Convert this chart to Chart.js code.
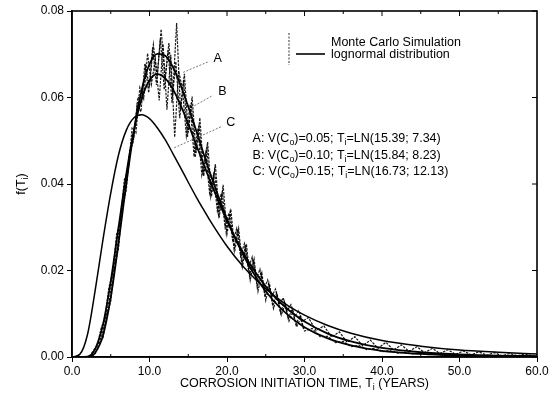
<!DOCTYPE html>
<html>
<head>
<meta charset="utf-8">
<script src="https://cdn.jsdelivr.net/npm/chart.js@4.4.1/dist/chart.umd.min.js"></script>
<style>
html,body{margin:0;padding:0;background:#fff;}
canvas{display:block;}
</style>
</head>
<body>
<canvas id="c" width="555" height="396"></canvas>
<script>
// ---- data ----
const curveT = [0,1,2,3,4,5,6,7,8,9,10,11,12,13,14,15,16,17,18,20,22,24,26,28,30,33,36,40,45,50,55,60];
const curveA = [0,0,0.0000,0.0010,0.0050,0.0138,0.0263,0.0400,0.0524,0.0618,0.0677,0.0701,0.0697,0.0671,0.0629,0.0579,0.0525,0.0469,0.0416,0.0319,0.0239,0.0177,0.0130,0.0095,0.0069,0.0043,0.0027,0.0014,0.0007,0.0003,0.0002,0.0001];
const curveB = [0,0,0.0001,0.0019,0.0075,0.0175,0.0299,0.0422,0.0525,0.0598,0.0640,0.0654,0.0645,0.0620,0.0583,0.0539,0.0492,0.0445,0.0399,0.0315,0.0244,0.0187,0.0142,0.0108,0.0082,0.0054,0.0036,0.0021,0.0011,0.0006,0.0003,0.0002];
const curveC = [0,0.0006,0.0052,0.0155,0.0272,0.0379,0.0467,0.0524,0.0553,0.0560,0.0551,0.0530,0.0503,0.0471,0.0438,0.0404,0.0371,0.0340,0.0310,0.0256,0.0211,0.0174,0.0143,0.0117,0.0097,0.0073,0.0055,0.0038,0.0025,0.0016,0.0011,0.0007];

// Monte Carlo simulation samples (three interleaved runs)
const mcTA = [2,2.5,3,3.5,4,4.5,5,5.5,6,6.5,7,7.5,8,8.5,9,9.5,10,10.5,11,11.5,12,12.5,13,13.5,14,14.5,15,15.5,16,16.5,17,17.5,18,18.5,19,19.5,20,20.5,21,21.5,22,22.5,23,23.5,24,24.5,25,25.5,26,26.5,27,27.5,28,28.5,29,29.5,30,
  31,32,33,34,35,36,37,38,39,40,41,42,43,44,45,46,47,48,49,50,51,52,53,54,55,56,57,58,59,60];
const mcA = [0.0000,0.0004,0.0008,0.0031,0.0044,0.0097,0.0129,0.0211,0.0251,0.0347,
  0.0386,0.0482,0.0508,0.0601,0.0594,0.0671,0.0625,0.0722,0.0648,0.0758,
  0.0641,0.0726,0.0606,0.0772,0.0571,0.0655,0.0519,0.0602,0.0472,0.0553,
  0.0418,0.0497,0.0371,0.0446,0.0322,0.0398,0.0285,0.0341,0.0246,0.0297,
  0.0209,0.0262,0.0178,0.0226,0.0152,0.0194,0.0131,0.0168,0.0112,0.0142,
  0.0097,0.0121,0.0083,0.0104,0.0070,0.0090,0.0060,
  0.0066,0.0047,0.0048,0.0033,0.0036,0.0024,0.0027,0.0017,0.0020,0.0012,0.0015,0.0009,0.0011,0.0007,0.0009,0.0005,0.0007,0.0003,0.0005,0.0002,0.0004,0.0002,0.0003,0.0001,0.0003,0.0001,0.0002,0.0001,0.0002,0.0001];
const mcTB = [2.25,2.75,3.25,3.75,4.25,4.75,5.25,5.75,6.25,6.75,7.25,7.75,8.25,8.75,9.25,9.75,10.25,10.75,11.25,11.75,12.25,12.75,13.25,13.75,14.25,14.75,15.25,15.75,16.25,16.75,17.25,17.75,18.25,18.75,19.25,19.75,20.25,20.75,21.25,21.75,22.25,22.75,23.25,23.75,24.25,24.75,25.25,25.75,26.25,26.75,27.25,27.75,28.25,28.75,29.25,29.75,
  30.5,31.5,32.5,33.5,34.5,35.5,36.5,37.5,38.5,39.5,40.5,41.5,42.5,43.5,44.5,45.5,46.5,47.5,48.5,49.5,50.5,51.5,52.5,53.5,54.5,55.5,56.5,57.5,58.5,59.5];
const mcB = [0.0001,0.0015,0.0026,0.0066,0.0089,0.0160,0.0194,0.0283,0.0315,0.0410,
  0.0431,0.0529,0.0518,0.0623,0.0597,0.0702,0.0631,0.0689,0.0593,0.0724,
  0.0572,0.0699,0.0508,0.0661,0.0621,0.0512,0.0584,0.0463,0.0529,0.0421,
  0.0472,0.0379,0.0421,0.0338,0.0378,0.0301,0.0333,0.0266,0.0297,0.0234,
  0.0262,0.0204,0.0231,0.0178,0.0203,0.0157,0.0178,0.0138,0.0157,0.0121,
  0.0137,0.0107,0.0121,0.0094,0.0107,0.0083,
  0.0091,0.0061,0.0072,0.0046,0.0058,0.0034,0.0047,0.0026,0.0039,0.0020,0.0034,0.0016,0.0028,0.0013,0.0024,0.0010,0.0020,0.0008,0.0017,0.0006,0.0014,0.0005,0.0012,0.0004,0.0010,0.0003,0.0008,0.0003,0.0007,0.0002];
const mcTC = [3.4,3.9,4.4,4.9,5.4,5.9,6.4,6.9,7.4,7.9,8.4,8.9,9.4,9.9,10.4,10.9,11.4,11.9,12.4,12.9,13.4,13.9,14.4,14.9,15.4,15.9,16.4,16.9,17.4,17.9,18.4,18.9,19.4,19.9,20.4,20.9,21.4,21.9,22.4,22.9,23.4,23.9,24.4,24.9,25.4,25.9,26.4,26.9,27.4,27.9,28.4,28.9,29.4,29.9];
const mcC = [0.0031,0.0052,0.0098,0.0139,0.0213,0.0259,0.0346,0.0388,0.0471,0.0497,
  0.0583,0.0567,0.0679,0.0611,0.0716,0.0629,0.0736,0.0618,0.0709,0.0588,
  0.0683,0.0552,0.0641,0.0509,0.0587,0.0462,0.0538,0.0419,0.0481,0.0371,
  0.0432,0.0329,0.0381,0.0287,0.0336,0.0251,0.0296,0.0214,0.0259,0.0187,
  0.0226,0.0161,0.0197,0.0139,0.0171,0.0118,0.0148,0.0102,0.0128,0.0088,
  0.0111,0.0075,0.0096,0.0064];

const xTicks = [0,10,20,30,40,50,60];
const yTicks = [0,0.02,0.04,0.06,0.08];
const topMinorTicks = [5,10,15,20,25,30,35,40,45,50,55];
const seriesNames = ['A','B','C'];
const seriesText = [
  [['A: V(C',0],['o',1],[')=0.05; T',0],['i',1],['=LN(15.39; 7.34)',0]],
  [['B: V(C',0],['o',1],[')=0.10; T',0],['i',1],['=LN(15.84; 8.23)',0]],
  [['C: V(C',0],['o',1],[')=0.15; T',0],['i',1],['=LN(16.73; 12.13)',0]]
];
const legendLabels = ['Monte Carlo Simulation','lognormal distribution'];
const xTitle = [['CORROSION INITIATION TIME, T',0],['i',1],[' (YEARS)',0]];
const yTitle = [['f(T',0],['i',1],[')',0]];

// ---- annotation placement (data units) ----
const labelAnchor = {
  A:{tx:18.8,ty:0.0689, x1:17.5,y1:0.0682, x2:14.2,y2:0.0657},
  B:{tx:19.4,ty:0.0613, x1:18.0,y1:0.0603, x2:15.5,y2:0.0578},
  C:{tx:20.5,ty:0.0541, x1:19.2,y1:0.0532, x2:13.1,y2:0.0483}
};
const textAnchor = {x:23.3, y:[0.0505,0.0466,0.0429]};

const FONT = "'Liberation Sans', Arial, Helvetica, sans-serif";
const pts = (xs, ys) => xs.map((x,i)=>({x:x, y:ys[i]}));

function richWidth(ctx, parts, size){
  let w=0;
  for(const [t,sub] of parts){
    ctx.font = (sub? size*0.7 : size)+'px '+FONT;
    w += ctx.measureText(t).width;
  }
  return w;
}
function drawRich(ctx, x, y, parts, size){
  let cx = x;
  ctx.textBaseline='middle';
  ctx.textAlign='left';
  for(const [t,sub] of parts){
    ctx.font = (sub? size*0.7 : size)+'px '+FONT;
    ctx.fillText(t, cx, sub? y+size*0.3 : y);
    cx += ctx.measureText(t).width;
  }
}

const deco = {
  id:'deco',
  afterDraw(chart){
    const {ctx, chartArea:a, scales:{x,y}} = chart;
    ctx.save();
    ctx.fillStyle='#000';
    ctx.strokeStyle='#000';
    // frame
    ctx.lineWidth=1.6;
    ctx.strokeRect(a.left, a.top, a.right-a.left, a.bottom-a.top);
    // top, bottom minor & right ticks
    ctx.lineWidth=1;
    ctx.beginPath();
    for(const v of topMinorTicks){
      const px=x.getPixelForValue(v);
      ctx.moveTo(px,a.top); ctx.lineTo(px,a.top+(v%10===0?5:3));
      if(v%10!==0){ ctx.moveTo(px,a.bottom); ctx.lineTo(px,a.bottom-3); }
    }
    for(const v of yTicks){
      const py=y.getPixelForValue(v);
      ctx.moveTo(a.right,py); ctx.lineTo(a.right-5,py);
    }
    ctx.stroke();
    // series labels and leader lines
    ctx.lineWidth=0.8;
    ctx.strokeStyle='#555';
    ctx.setLineDash([2,1.5]);
    for(const n of seriesNames){
      const L = labelAnchor[n];
      ctx.beginPath();
      ctx.moveTo(x.getPixelForValue(L.x1), y.getPixelForValue(L.y1));
      ctx.lineTo(x.getPixelForValue(L.x2), y.getPixelForValue(L.y2));
      ctx.stroke();
    }
    ctx.setLineDash([]);
    for(const n of seriesNames){
      const L = labelAnchor[n];
      ctx.font = '12.5px '+FONT;
      ctx.textAlign='center'; ctx.textBaseline='middle';
      ctx.fillText(n, x.getPixelForValue(L.tx), y.getPixelForValue(L.ty));
    }
    // parameter texts
    seriesText.forEach((parts,i)=>{
      drawRich(ctx, x.getPixelForValue(textAnchor.x), y.getPixelForValue(textAnchor.y[i]), parts, 12.5);
    });
    // legend
    const lx = a.left + 217, ly = a.top;
    ctx.strokeStyle='#333';
    ctx.lineWidth=1;
    ctx.setLineDash([2,1.5]);
    ctx.beginPath(); ctx.moveTo(lx, ly+22); ctx.lineTo(lx, ly+54); ctx.stroke();
    ctx.setLineDash([]);
    ctx.strokeStyle='#000';
    ctx.lineWidth=1.6;
    ctx.beginPath(); ctx.moveTo(lx+7, ly+43); ctx.lineTo(lx+36, ly+43); ctx.stroke();
    ctx.font='12.5px '+FONT; ctx.textAlign='left'; ctx.textBaseline='middle';
    ctx.fillText(legendLabels[0], lx+42, ly+32);
    ctx.fillText(legendLabels[1], lx+42, ly+44);
    // axis titles
    const xs = 12.5;
    const wx = richWidth(ctx, xTitle, xs);
    drawRich(ctx, (a.left+a.right)/2 - wx/2, a.bottom+27, xTitle, xs);
    ctx.save();
    ctx.translate(a.left-50, (a.top+a.bottom)/2);
    ctx.rotate(-Math.PI/2);
    const wy = richWidth(ctx, yTitle, xs);
    drawRich(ctx, -wy/2, 0, yTitle, xs);
    ctx.restore();
    ctx.restore();
  }
};

const lineBase = {pointRadius:0, borderColor:'#000', fill:false, cubicInterpolationMode:'monotone'};
const mcBase = {pointRadius:0, borderColor:'rgba(0,0,0,0.9)', borderWidth:1.2, borderDash:[2.5,1.2], tension:0, fill:false};
new Chart(document.getElementById('c'), {
  type:'line',
  data:{datasets:[
    Object.assign({label:'A', data:pts(curveT,curveA), borderWidth:1.8}, lineBase),
    Object.assign({label:'B', data:pts(curveT,curveB), borderWidth:1.8}, lineBase),
    Object.assign({label:'C', data:pts(curveT,curveC), borderWidth:1.5}, lineBase),
    Object.assign({label:'MC 1', data:pts(mcTA,mcA)}, mcBase),
    Object.assign({label:'MC 2', data:pts(mcTB,mcB)}, mcBase),
    Object.assign({label:'MC 3', data:pts(mcTC,mcC)}, mcBase)
  ]},
  options:{
    responsive:false, animation:false, devicePixelRatio:1,
    layout:{padding:{left:0,right:18,top:11,bottom:0}},
    plugins:{legend:{display:false}, tooltip:{enabled:false}},
    scales:{
      x:{type:'linear', min:0, max:60,
        afterBuildTicks:s=>{s.ticks = xTicks.map(v=>({value:v}));},
        afterFit:s=>{s.height=39;},
        ticks:{color:'#000', font:{family:FONT,size:12}, padding:2, maxRotation:0, callback:v=>Number(v).toFixed(1)},
        grid:{drawOnChartArea:false, tickLength:5, color:'#000', tickWidth:1},
        border:{display:true,color:'#000',width:1.6}
      },
      y:{type:'linear', min:0, max:0.08,
        afterBuildTicks:s=>{s.ticks = yTicks.map(v=>({value:v}));},
        afterFit:s=>{s.width=72;},
        ticks:{color:'#000', font:{family:FONT,size:12}, padding:3, callback:v=>Number(v).toFixed(2)},
        grid:{drawOnChartArea:false, tickLength:5, color:'#000', tickWidth:1},
        border:{display:true,color:'#000',width:1.6}
      }
    }
  },
  plugins:[deco]
});
</script>
</body>
</html>
